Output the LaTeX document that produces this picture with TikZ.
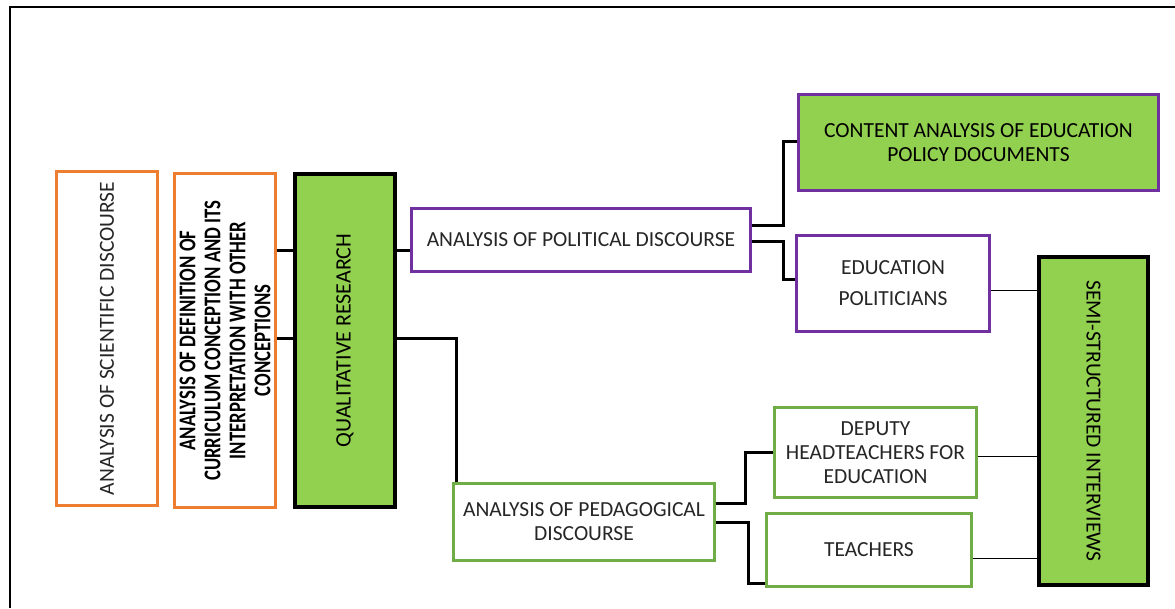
\documentclass[tikz,border=0pt]{standalone}
\usepackage{fontspec}
\setmainfont{Carlito}
\newfontfamily\narrowbold[FakeStretch=0.78]{Carlito Bold}
\definecolor{boxorange}{HTML}{ED7D31}
\definecolor{boxpurple}{HTML}{7030A0}
\definecolor{boxgreen}{HTML}{70AD47}
\definecolor{fillgreen}{HTML}{92D050}
\definecolor{txt}{HTML}{262626}
\tikzset{
  box/.style={draw, rectangle, inner sep=0pt, align=center, text=txt, font=\fontsize{21.5}{24}\selectfont},
  orangebox/.style={box, draw=boxorange, line width=3pt, fill=white},
  purplebox/.style={box, draw=boxpurple, line width=3pt, fill=white},
  greenbox/.style={box, draw=boxgreen, line width=3pt, fill=white},
  blackbox/.style={box, draw=black, line width=4pt, fill=fillgreen},
  conn/.style={draw=black, line width=3pt},
  thinconn/.style={draw=black, line width=1pt},
  vlabel/.style={rotate=90, text=txt, align=center, font=\fontsize{21.5}{25}\selectfont},
}
\begin{document}
\begin{tikzpicture}[x=1pt,y=-1pt]
\useasboundingbox (0,0) rectangle (1175,608);
% outer frame (left and top edges)
\draw[line width=2pt] (10,608) -- (10,7) -- (1175,7);

% left column
\node[orangebox, minimum width=101, minimum height=334] (sci) at (107,338.5) {};
\node[vlabel] at (sci) {ANALYSIS OF SCIENTIFIC DISCOURSE};
\node[orangebox, minimum width=101, minimum height=334] (def) at (225,340.5) {};
\node[vlabel, text=black, font=\narrowbold\fontsize{24}{25}\selectfont] at (def) {ANALYSIS OF DEFINITION OF\\CURRICULUM CONCEPTION AND ITS\\INTERPRETATION WITH OTHER\\CONCEPTIONS};
\node[blackbox, minimum width=100, minimum height=333] (qr) at (345,340.5) {};
\node[vlabel, text=black, font=\fontsize{22}{25}\selectfont] at (qr) {QUALITATIVE RESEARCH};

% political branch
\node[purplebox, minimum width=339, minimum height=63] (pol) at (581,240) {ANALYSIS OF POLITICAL DISCOURSE};
\node[purplebox, fill=fillgreen, text=black, minimum width=360, minimum height=96] (cont) at (978.5,142.5) {CONTENT ANALYSIS OF EDUCATION\\POLICY DOCUMENTS};
\node[purplebox, minimum width=193, minimum height=96] (epol) at (893,283.5) {EDUCATION\\[7pt]POLITICIANS};

% pedagogical branch
\node[greenbox, minimum width=261, minimum height=77] (ped) at (584,522) {ANALYSIS OF PEDAGOGICAL\\DISCOURSE};
\node[greenbox, minimum width=202, minimum height=90] (dep) at (875.5,452.5) {DEPUTY\\HEADTEACHERS FOR\\EDUCATION};
\node[greenbox, minimum width=205, minimum height=73] (tea) at (869,550) {TEACHERS};

% interviews
\node[blackbox, minimum width=109, minimum height=328] (ssi) at (1093.5,421) {};
\node[vlabel, rotate=180, text=black] at (ssi) {SEMI-STRUCTURED INTERVIEWS};

% connectors
\draw[conn] (def.east |- 0,250) -- (qr.west |- 0,250);
\draw[conn] (def.east |- 0,338) -- (qr.west |- 0,338);
\draw[conn] (qr.east |- 0,250) -- (pol.west |- 0,250);
\draw[conn] (qr.east |- 0,338) -| (456,0 |- ped.north);
\draw[conn] (pol.east |- 0,225) -- (783,225) |- (cont.west |- 0,141);
\draw[conn] (pol.east |- 0,241) -- (783,241) |- (epol.west |- 0,279);
\draw[conn] (ped.east |- 0,503) -- (745,503) |- (dep.west |- 0,452);
\draw[conn] (ped.east |- 0,522) -- (748,522) |- (tea.west |- 0,583);
\draw[thinconn] (epol.east |- 0,290) -- (ssi.west |- 0,290);
\draw[thinconn] (dep.east |- 0,456) -- (ssi.west |- 0,456);
\draw[thinconn] (tea.east |- 0,558) -- (ssi.west |- 0,558);
\end{tikzpicture}
\end{document}
